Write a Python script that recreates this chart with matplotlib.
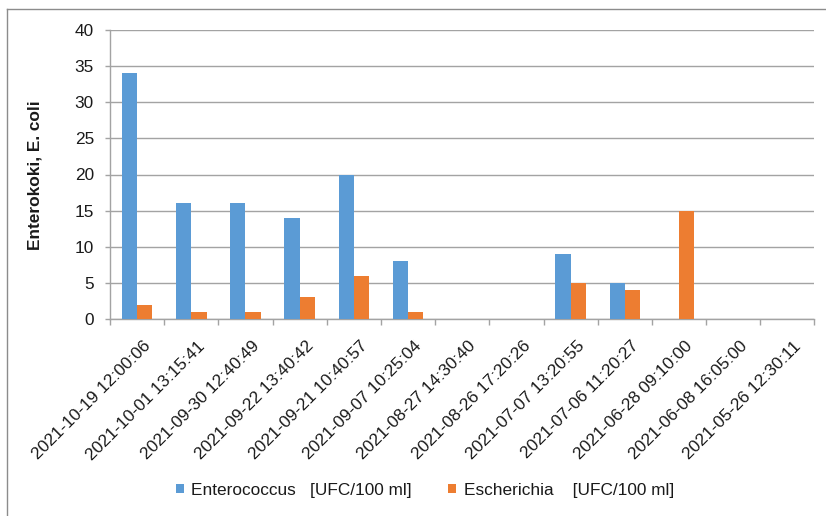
import matplotlib
matplotlib.use("Agg")
import matplotlib.pyplot as plt
import matplotlib.transforms as mtransforms
from matplotlib.lines import Line2D
import numpy as np

categories = [
    "2021-10-19 12:00:06", "2021-10-01 13:15:41", "2021-09-30 12:40:49",
    "2021-09-22 13:40:42", "2021-09-21 10:40:57", "2021-09-07 10:25:04",
    "2021-08-27 14:30:40", "2021-08-26 17:20:26", "2021-07-07 13:20:55",
    "2021-07-06 11:20:27", "2021-06-28 09:10:00", "2021-06-08 16:05:00",
    "2021-05-26 12:30:11",
]
enterococcus = [34, 16, 16, 14, 20, 8, 0, 0, 9, 5, 0, 0, 0]
escherichia = [2, 1, 1, 3, 6, 1, 0, 0, 5, 4, 15, 0, 0]
series_labels = ["Enterococcus   [UFC/100 ml]", "Escherichia    [UFC/100 ml]"]
y_label = "Enterokoki, E. coli"
y_ticks = [0, 5, 10, 15, 20, 25, 30, 35, 40]

plt.rcParams["font.family"] = ["Liberation Sans", "DejaVu Sans"]
FS = 12.4
TXT = "#1a1a1a"
GRID = "#a3a3a3"
BLUE = "#5b9bd5"
ORANGE = "#ed7d31"

W, H = 826, 516
fig = plt.figure(figsize=(W / 100, H / 100), dpi=100)
ax = fig.add_axes([110 / W, 1 - 319 / H, (814.5 - 110) / W, (319 - 30) / H])

n = len(categories)
x = np.arange(n)
bw = 0.282
ax.bar(x - bw / 2, enterococcus, width=bw, color=BLUE, label=series_labels[0], zorder=3)
ax.bar(x + bw / 2, escherichia, width=bw, color=ORANGE, label=series_labels[1], zorder=3)

ax.set_xlim(-0.5, n - 0.5)
ax.set_ylim(0, 40)
ax.set_yticks(y_ticks)
ax.yaxis.grid(True, color=GRID, linewidth=1.0, zorder=0)
ax.set_axisbelow(True)

for s in ["top", "right"]:
    ax.spines[s].set_visible(False)
for s in ["left", "bottom"]:
    ax.spines[s].set_color(GRID)
    ax.spines[s].set_linewidth(1.0)

ax.tick_params(axis="y", direction="out", length=3.6, width=1.0, color=GRID,
               labelsize=FS, labelcolor=TXT, pad=8)

# category labels at centres, tick marks at category boundaries
ax.set_xticks(x)
ax.set_xticklabels(categories, rotation=45, ha="right", va="top",
                   rotation_mode="anchor", fontsize=FS, color=TXT)
ax.tick_params(axis="x", which="major", length=0, pad=14)
ax.set_xticks(np.arange(-0.5, n, 1.0), minor=True)
ax.tick_params(axis="x", which="minor", direction="out", length=4.3, width=1.0, color=GRID)
shift = mtransforms.ScaledTranslation(6 / 100, 0, fig.dpi_scale_trans)
for lab in ax.get_xticklabels():
    lab.set_transform(lab.get_transform() + shift)

ax.set_ylabel(y_label, fontsize=FS, fontweight="bold", color=TXT)
ax.yaxis.set_label_coords(43 / W, 1 - 175 / H, transform=fig.transFigure)

leg = fig.legend(loc="center", bbox_to_anchor=(425 / W, 1 - 490 / H), ncol=2,
                 frameon=False, fontsize=FS, handlelength=0.45, handleheight=0.45,
                 handletextpad=0.45, columnspacing=2.1, labelcolor=TXT)

# chart border
fig.add_artist(Line2D([7 / W, 1], [1 - 9 / H, 1 - 9 / H], color="#8c8c8c", lw=1.0,
                      transform=fig.transFigure))
fig.add_artist(Line2D([7 / W, 7 / W], [0, 1 - 9 / H], color="#8c8c8c", lw=1.0,
                      transform=fig.transFigure))

fig.savefig("out.png", dpi=100)
